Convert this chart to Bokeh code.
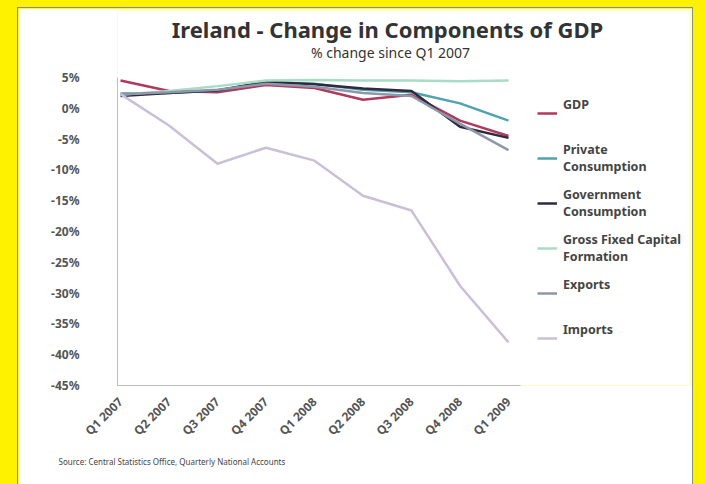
import math
from bokeh.plotting import figure
from bokeh.models import (Range1d, FixedTicker, Legend, LegendItem, Title, Label,
                          PrintfTickFormatter)
from bokeh.layouts import column
from bokeh.embed import file_html
from bokeh.resources import INLINE

quarters = ["Q1 2007", "Q2 2007", "Q3 2007", "Q4 2007", "Q1 2008",
            "Q2 2008", "Q3 2008", "Q4 2008", "Q1 2009"]
gdp = [4.5, 2.8, 2.6, 3.8, 3.3, 1.4, 2.2, -2.0, -4.5]
private_consumption = [2.4, 2.5, 2.9, 4.2, 4.0, 3.0, 2.6, 0.8, -2.0]
government_consumption = [2.0, 2.5, 2.9, 4.3, 3.9, 3.2, 2.8, -3.0, -4.8]
gfcf = [2.2, 2.8, 3.6, 4.5, 4.6, 4.5, 4.5, 4.4, 4.5]
exports = [2.3, 2.6, 3.0, 4.0, 3.5, 2.5, 2.0, -2.5, -6.8]
imports = [2.3, -2.8, -9.0, -6.4, -8.5, -14.2, -16.6, -28.8, -38.0]
y_ticks = [5, 0, -5, -10, -15, -20, -25, -30, -35, -40, -45]

series = [
    ("GDP\n ", gdp, "#B03A5B"),
    ("Private\nConsumption", private_consumption, "#4FA3B0"),
    ("Government\nConsumption", government_consumption, "#2F2A40"),
    ("Gross Fixed Capital\nFormation", gfcf, "#A8DCC4"),
    ("Exports\n ", exports, "#8E96A8"),
    ("Imports\n ", imports, "#C9C0D8"),
]

FONT = "Noto Sans"
W, H = 674, 476
# frame: page x 117..690, y 10..385 -> figure x 99..672, y 2..377
X0, X1 = -0.062, -0.062 + 573 / 48.5
Y0, Y1 = -45, -45 + 375 / 6.16

p = figure(width=W, height=H, output_backend="svg", toolbar_location=None,
           x_range=Range1d(X0, X1), y_range=Range1d(Y0, Y1),
           min_border_left=99, min_border_right=2, min_border_top=2,
           min_border_bottom=99)
p.background_fill_color = "white"
p.border_fill_color = "white"
p.outline_line_color = None
p.xgrid.visible = False
p.ygrid.visible = False

xs = list(range(len(quarters)))
items = []
for name, vals, col in series:
    r = p.line(xs, vals, line_color=col, line_width=2.5)
    items.append(LegendItem(label=name, renderers=[r]))

xax = p.xaxis[0]
yax = p.yaxis[0]
xax.ticker = FixedTicker(ticks=xs)
xax.major_label_overrides = {i: q for i, q in enumerate(quarters)}
xax.major_label_orientation = math.pi / 4
xax.bounds = (X0, 8.25)
yax.ticker = FixedTicker(ticks=y_ticks)
yax.formatter = PrintfTickFormatter(format="%d%%")
yax.bounds = (-45, 5)
for ax in (xax, yax):
    ax.axis_line_color = "#BDBDBD"
    ax.major_tick_line_color = None
    ax.minor_tick_line_color = None
    ax.major_tick_in = 0
    ax.major_tick_out = 0
    ax.major_label_text_font = FONT
    ax.major_label_text_color = "#555555"
    ax.major_label_text_font_style = "bold"
xax.major_label_text_font_size = "12px"
yax.major_label_text_font_size = "12px"
xax.major_label_standoff = 14
yax.major_label_standoff = 38

legend = Legend(items=items, location=(420, 30))
legend.label_text_font = FONT
legend.label_text_font_size = "12.5px"
legend.label_text_line_height = 1.5
legend.label_text_color = "#444444"
legend.label_text_font_style = "bold"
legend.glyph_width = 20
legend.label_standoff = 6
legend.spacing = 11
legend.padding = 0
legend.margin = 0
legend.border_line_color = None
legend.background_fill_alpha = 0
p.add_layout(legend, "center")

p.add_layout(Label(x=270, y=357, x_units="screen", y_units="screen",
                   text="Ireland - Change in Components of GDP", text_font=FONT,
                   text_font_size="22px", text_font_style="bold",
                   text_color="#333333", text_align="center",
                   text_baseline="middle"))
p.add_layout(Label(x=273, y=333, x_units="screen", y_units="screen",
                   text="% change since Q1 2007", text_font=FONT,
                   text_font_size="14px", text_color="#333333",
                   text_align="center", text_baseline="middle"))

src = Title(text="Source: Central Statistics Office, Quarterly National Accounts",
            text_font=FONT, text_font_size="8px", text_color="#444444",
            text_font_style="normal", align="left", offset=-59, standoff=12)
p.add_layout(src, "below")

p.styles = {"outline": "1px solid #8A8A8A"}

layout = column(p, width=706, height=484,
                styles={"background-color": "#FFF200", "padding-left": "18px",
                        "padding-top": "8px"})

open("out.html", "w").write(file_html(layout, INLINE))
